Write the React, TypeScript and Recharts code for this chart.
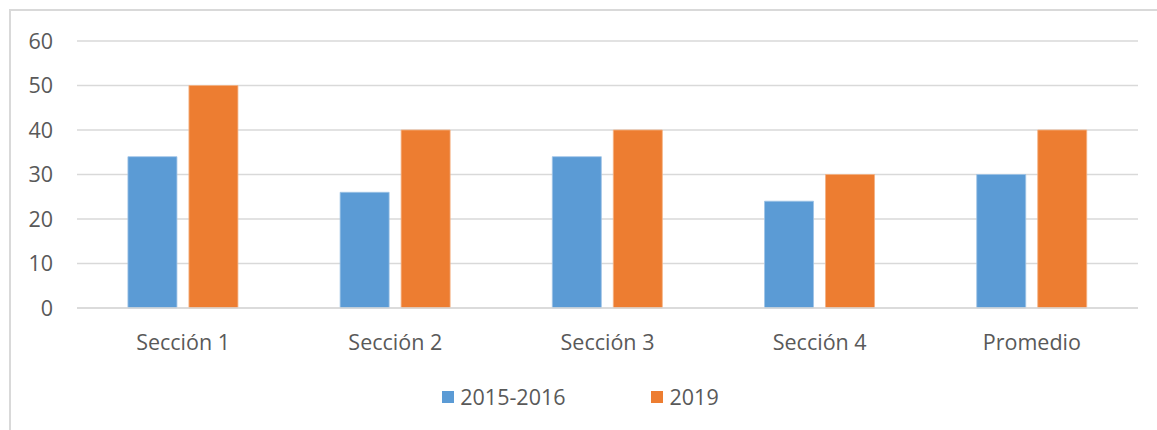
import React from 'react';
import { BarChart, Bar, XAxis, YAxis, CartesianGrid, Legend } from 'recharts';

const categories = ['Sección 1', 'Sección 2', 'Sección 3', 'Sección 4', 'Promedio'];
const series2015 = [34, 26, 34, 24, 30];
const series2019 = [50, 40, 40, 30, 40];
const yTicks = [0, 10, 20, 30, 40, 50, 60];

const data = categories.map((c, i) => ({ name: c, a: series2015[i], b: series2019[i] }));

const FONT = '"Open Sans", "Noto Sans", sans-serif';
const TEXT = '#595959';
const FS = 21.5;

const LegendContent = () => (
  <div style={{ display: 'flex', justifyContent: 'center', fontFamily: FONT, fontSize: FS, color: TEXT, paddingTop: 24, marginLeft: 23 }}>
    <div style={{ display: 'flex', alignItems: 'center', marginRight: 85 }}>
      <span style={{ width: 12, height: 12, background: '#5B9BD5', display: 'inline-block', marginRight: 6 }} />
      <span>2015-2016</span>
    </div>
    <div style={{ display: 'flex', alignItems: 'center' }}>
      <span style={{ width: 12, height: 12, background: '#ED7D31', display: 'inline-block', marginRight: 7 }} />
      <span>2019</span>
    </div>
  </div>
);

export default function App() {
  return (
    <div style={{ position: 'absolute', left: 0, top: 0, width: 1157, height: 430, overflow: 'hidden', background: '#fff' }}>
      <div style={{ position: 'absolute', left: 9, top: 9, width: 1200, height: 500, border: '2px solid #d9d9d9', boxSizing: 'border-box' }} />
      <div style={{ position: 'absolute', left: 0, top: 0 }}>
        <BarChart width={1157} height={430} data={data} margin={{ top: 41, right: 19, left: 0, bottom: 0 }} barCategoryGap="24%" barGap={12}>
          <CartesianGrid vertical={false} stroke="#d9d9d9" strokeWidth={1.5} />
          <XAxis dataKey="name" height={50} axisLine={{ stroke: '#d9d9d9', strokeWidth: 1.5 }} tickLine={false} tickMargin={21}
            tick={{ fill: TEXT, fontSize: FS, fontFamily: FONT }} />
          <YAxis width={77} domain={[0, 60]} ticks={yTicks} axisLine={false} tickLine={false} tickMargin={18}
            tick={{ fill: TEXT, fontSize: FS, fontFamily: FONT }} />
          <Legend verticalAlign="bottom" height={72} content={<LegendContent />} />
          <Bar dataKey="a" name="2015-2016" fill="#5B9BD5" stroke="#9dc3e6" strokeWidth={0.8} isAnimationActive={false} />
          <Bar dataKey="b" name="2019" fill="#ED7D31" stroke="#f4b183" strokeWidth={0.8} isAnimationActive={false} />
        </BarChart>
      </div>
    </div>
  );
}
